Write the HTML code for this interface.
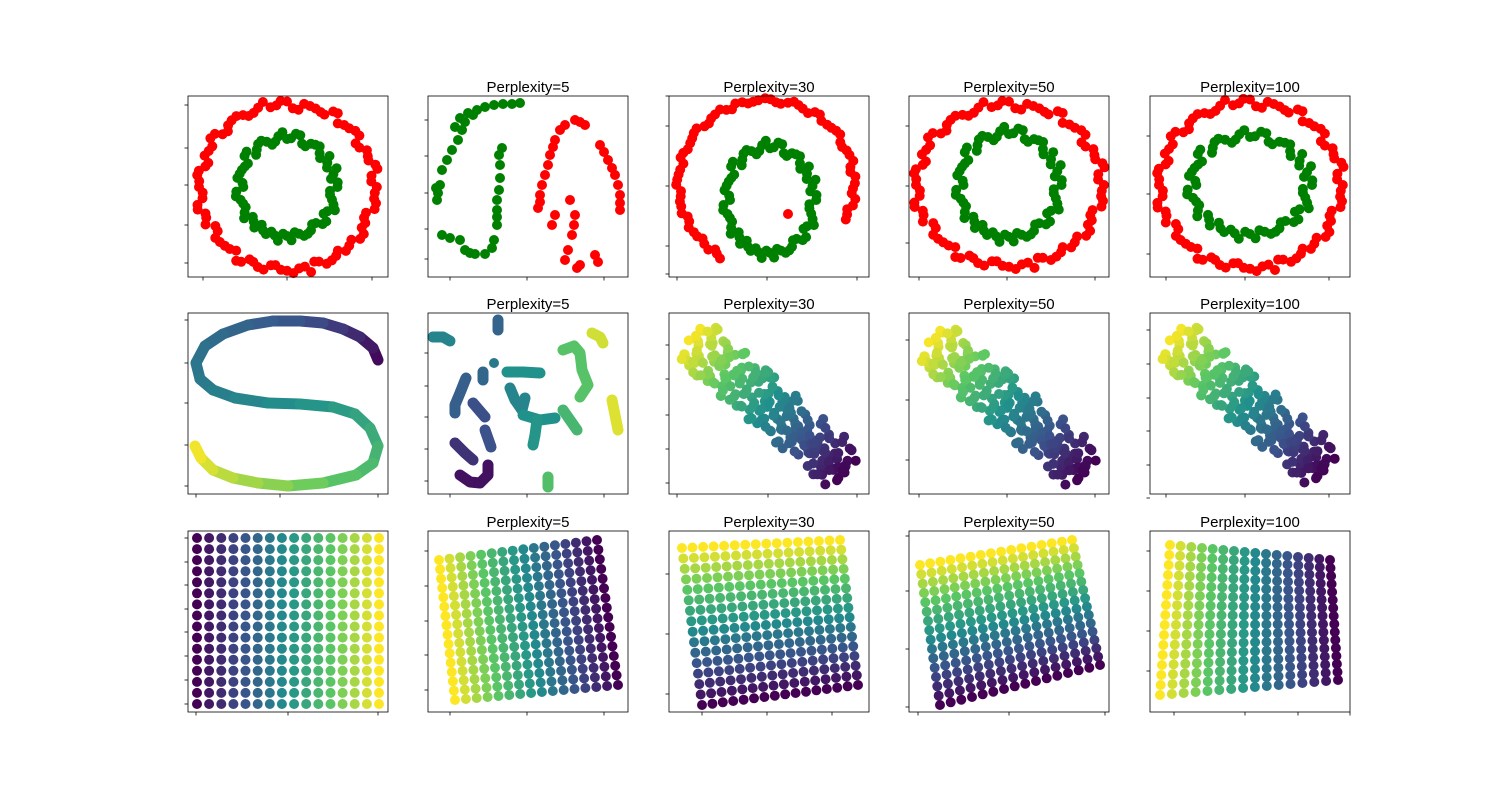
<!DOCTYPE html>
<html><head><meta charset="utf-8"><style>
html,body{margin:0;padding:0;background:#fff;}
svg{display:block;font-family:"Liberation Sans",sans-serif;}
</style></head><body>
<svg id="fig" width="1500" height="800" viewBox="0 0 1500 800" xmlns="http://www.w3.org/2000/svg"></svg>
<script>
// ---------- data ----------
const titles = ["", "Perplexity=5", "Perplexity=30", "Perplexity=50", "Perplexity=100"];
const colX = [188, 428, 669, 909, 1150];
const rowY = [96, 313, 531];
// ring angles (deg) and radius jitter
const outerA = [0,8,15,22,30,37,45,53,60,67,75,82,90,97,105,113,120,128,135,142,150,158,165,172,180,188,195,202,210,217,225,233,240,247,255,262,270,278,285,292,300,307,315,323,330,337,345,352];
const outerJ = [1.02,0.97,1.04,0.99,0.95,1.03,1.0,0.96,1.05,0.98,1.01,0.94,1.03,0.99,1.06,0.97,1.0,1.02,0.95,1.04,0.98,1.01,0.96,1.03,1.0,0.97,1.05,0.99,0.94,1.02,1.0,0.96,1.04,0.98,1.03,0.95,1.01,0.99,1.06,0.97,1.02,0.96,1.0,1.04,0.98,0.95,1.03,1.0];
const innerA = [0,10,20,30,40,50,60,70,80,90,100,110,120,130,140,150,160,170,180,190,200,210,220,230,240,250,260,270,280,290,300,310,320,330,340,350];
const innerJ = [1.05,0.93,1.1,0.97,0.9,1.06,1.0,0.92,1.08,0.96,1.03,0.9,1.07,0.98,1.1,0.94,1.0,1.05,0.91,1.08,0.97,1.02,0.93,1.06,1.0,0.95,1.09,0.98,0.92,1.04,1.0,0.94,1.07,0.97,1.03,0.91];
// ring panels: [col, cx, cy, outerRx, outerRy, innerRx, innerRy] (local units)
const ringPanels = [[0,99,91,88,83,48,50],[3,100,89,93,81,50,53],[4,100,89,91,83,59,50]];
// perplexity 30 arc (angles deg, ccw from +x, y up) and inner ring
const arcA = [-25,-18,-10,-3,5,12,20,27,35,42,50,57,65,72,80,87,95,102,110,117,125,132,140,147,155,162,170,177,185,192,200,207,215,222,230,236];
const arcJ = [1.0,0.97,1.03,0.99,1.02,0.98,1.01,0.97,1.03,1.0,0.98,1.02,0.99,1.03,0.97,1.01,1.0,0.98,1.02,0.99,1.01,0.97,1.03,1.0,0.98,1.02,0.99,1.01,0.97,1.0,1.02,0.98,1.0,0.97,1.02,1.0];
const p30Green = [101,104,44,54];
const p30Dot = [[119,118]];
// perplexity 5 fragments (local x, y-down units)
const p5Green = [[27,31],[32,22],[40,17],[49,14],[57,11],[66,9],[75,8],[84,8],[92,7],[37,26],[45,19],[9,104],[12,89],[14,74],[19,64],[24,54],[30,44],[34,34],[10,97],[69,129],[69,114],[69,104],[71,94],[72,82],[72,69],[71,59],[74,52],[69,121],[14,139],[22,142],[32,144],[37,154],[47,158],[57,158],[64,152],[66,144],[42,157],[8,92]];
const p5Red = [[110,112],[112,99],[114,89],[117,79],[120,69],[122,59],[125,51],[127,44],[132,34],[137,29],[147,24],[157,29],[152,26],[172,49],[176,56],[180,64],[184,72],[187,79],[190,89],[192,99],[192,107],[192,114],[142,104],[147,119],[146,129],[144,139],[140,154],[137,164],[149,172],[152,169],[167,159],[170,166],[127,119],[124,129],[112,106]];
// S-curve (local x, y-down, color t)
const sCurve = [[190,47,0.0],[185,35,0.05],[172,24,0.1],[155,16,0.15],[135,10,0.2],[112,8,0.25],[85,8,0.28],[60,12,0.31],[35,21,0.34],[17,33,0.36],[8,50,0.38],[12,66,0.4],[25,77,0.42],[47,85,0.44],[80,90,0.47],[112,91,0.5],[145,94,0.53],[167,101,0.56],[182,115,0.6],[190,133,0.63],[185,150,0.67],[168,162,0.7],[135,170,0.75],[100,173,0.8],[70,170,0.84],[45,165,0.87],[25,157,0.92],[13,145,0.96],[7,133,1.0]];
// perplexity 5 colored clusters: [t, [points...]]
const p5Clusters = [
 [0.45,[[5,24],[15,24],[22,28]]],[0.32,[[70,7],[70,17]]],[0.93,[[164,20],[172,24],[175,30]]],
 [0.72,[[135,37],[146,33],[152,40],[154,57],[160,72],[152,84]]],[0.33,[[55,59],[55,67]]],[0.4,[[66,50]]],
 [0.5,[[79,59],[95,59],[112,60]]],[0.3,[[38,65],[32,80],[27,92],[27,100]]],[0.45,[[82,75],[87,87],[94,97],[97,85]]],
 [0.5,[[95,102],[112,107],[127,105]]],[0.52,[[109,107],[107,122],[105,132]]],[0.66,[[135,97],[142,107],[149,117]]],
 [0.95,[[184,87],[187,102],[190,117]]],[0.24,[[45,90],[57,104]]],[0.25,[[57,117],[63,134]]],
 [0.15,[[27,130],[37,140],[45,147]]],[0.05,[[32,162],[42,169],[52,170],[60,162],[60,152]]],[0.7,[[120,164],[120,174]]]];
// diagonal band shared shape: [u along (0..1), v across (-1..1)]
const bandUV = [[0.01,0.1],[0.03,-0.5],[0.04,0.6],[0.06,0.0],[0.07,-0.9],[0.09,0.8],[0.1,-0.3],[0.12,0.4],[0.14,-0.7],[0.15,0.9],[0.17,0.1],[0.19,-0.5],[0.2,0.6],[0.22,-0.1],[0.24,0.7],[0.25,-0.8],[0.27,0.3],[0.29,-0.4],[0.3,0.9],[0.32,0.0],[0.34,-0.7],[0.35,0.5],[0.37,-0.2],[0.39,0.8],[0.4,-0.6],[0.42,0.2],[0.44,-0.9],[0.45,0.6],[0.47,-0.3],[0.49,0.4],[0.5,-0.1],[0.52,0.8],[0.54,-0.6],[0.55,0.1],[0.57,-0.4],[0.59,0.7],[0.6,-0.8],[0.62,0.3],[0.64,-0.2],[0.65,0.9],[0.67,-0.6],[0.69,0.1],[0.7,0.6],[0.72,-0.4],[0.74,0.2],[0.75,-0.9],[0.77,0.7],[0.79,-0.1],[0.8,0.4],[0.82,-0.6],[0.84,0.8],[0.85,0.0],[0.87,-0.5],[0.89,0.5],[0.9,-0.2],[0.92,0.7],[0.94,-0.7],[0.95,0.2],[0.97,-0.3],[0.99,0.4],[0.08,0.3],[0.18,-0.1],[0.28,0.0],[0.38,0.3],[0.48,0.0],[0.58,0.2],[0.68,-0.1],[0.78,0.3],[0.88,0.1],[0.98,-0.1]];
// band panels: [col, ax, ay, bx, by, halfWidth]
const bandPanels = [[2,20,24,178,158,27],[3,20,26,178,158,27],[4,20,24,176,156,27]];
// grids
const gridU = [0,1,2,3,4,5,6,7,8,9,10,11,12,13,14,15];
const gridV = [0,1,2,3,4,5,6,7,8,9,10,11,12,13,14,15];
// grid panels: [col, TLx,TLy, TRx,TRy, BRx,BRy, BLx,BLy, colorMode]
const gridPanels = [[0,9,7,191,7,191,173,9,173,0],[1,11,29,169,9,190,154,27,169,1],[2,13,17,171,9,189,154,33,174,2],[3,11,34,163,9,191,134,31,174,2],[4,20,14,180,29,188,149,10,164,1]];
// tick positions (local)
const ticksX = [[[15,99,184],[22,99,176],[8,98,188],[10,98,186],[16,95,179]],[[8,92,190],[22,99,176],[8,99,188],[10,98,186],[16,95,179]],[[8,100,190],[22,99,176],[33,98,163],[9,100,196],[24,95,148,200]]];
const ticksY = [[[9,52,89,129,167],[24,60,97,133,163],[0,30,90,150,178],[30,90,147],[40,98,158]],[[7,50,90,132,173],[40,73,104,136,168],[32,66,102,136,170],[27,87,147],[17,51,85,118,152,185]],[[7,31,54,78,101,125,149,173],[20,55,90,124,159],[43,103,163],[5,60,118,176],[20,60,100,140]]];

// ---------- helpers ----------
const svg = document.getElementById('fig');
const NS = 'http://www.w3.org/2000/svg';
const W = 200, H = 181;
function mk(tag, attrs, parent){const e=document.createElementNS(NS,tag);for(const k in attrs)e.setAttribute(k,attrs[k]);(parent||svg).appendChild(e);return e;}
const vir = [[0,[68,1,84]],[0.25,[59,82,139]],[0.5,[33,145,140]],[0.75,[94,201,98]],[1,[253,231,37]]];
function viridis(t){t=Math.max(0,Math.min(1,t));for(let i=0;i<vir.length-1;i++){const a=vir[i],b=vir[i+1];if(t<=b[0]){const f=(t-a[0])/(b[0]-a[0]);const c=a[1].map((v,j)=>Math.round(v+(b[1][j]-v)*f));return `rgb(${c[0]},${c[1]},${c[2]})`;}}return 'rgb(253,231,37)';}
function sx(col, x){return colX[col]+x;}
function sy(row, y){return rowY[row]+y;}
function dot(g,x,y,fill,name){const c=mk('circle',{cx:x.toFixed(1),cy:y.toFixed(1),r:5,fill:fill},g);


return c;}
function panelGroup(row,col){const g=mk('g',{});


return g;}

// ---------- axes frames, ticks, titles ----------
for(let r=0;r<3;r++)for(let c=0;c<5;c++){
 const g=mk('g',{});
 
 
 ticksX[r][c].forEach(t=>{const l=mk('line',{x1:sx(c,t),x2:sx(c,t),y1:sy(r,H),y2:sy(r,H)+3.5,stroke:'#000','stroke-width':0.8},g);
  
  });
 ticksY[r][c].forEach(t=>{const l=mk('line',{x1:sx(c,0)-3.5,x2:sx(c,0),y1:sy(r,t),y2:sy(r,t),stroke:'#000','stroke-width':0.8},g);
  
  });
 if(titles[c]){const t=mk('text',{x:sx(c,W/2),y:sy(r,-4),'text-anchor':'middle','font-size':15,fill:'#000'},g);t.textContent=titles[c];
  
  }
}

// ---------- row 0: circles ----------
ringPanels.forEach(p=>{const [c,cx,cy,orx,ory,irx,iry]=p;const g=panelGroup(0,c);
 for(let pass=0;pass<2;pass++){
 outerA.forEach((a,i)=>{const ang=(a+pass*4)*Math.PI/180;const j=outerJ[(i+pass*7)%outerJ.length];dot(g,sx(c,cx+orx*j*Math.cos(ang)),sy(0,cy-ory*j*Math.sin(ang)),'#ff0000','outer-ring-point');});
 innerA.forEach((a,i)=>{const ang=(a+pass*5)*Math.PI/180;const j=innerJ[(i+pass*5)%innerJ.length];dot(g,sx(c,cx+irx*j*Math.cos(ang)),sy(0,cy-iry*j*Math.sin(ang)),'#008000','inner-ring-point');});
 }});
(function(){const c=1;const g=panelGroup(0,c);
 p5Green.forEach(p=>dot(g,sx(c,p[0]),sy(0,p[1]),'#008000','inner-ring-point'));
 p5Red.forEach(p=>dot(g,sx(c,p[0]),sy(0,p[1]),'#ff0000','outer-ring-point'));})();
(function(){const c=2;const g=panelGroup(0,c);const cx=97,cy=88,rx=88,ry=84;
 for(let pass=0;pass<2;pass++) arcA.forEach((a,i)=>{const ang=(a+pass*3.5)*Math.PI/180;const j=arcJ[(i+pass*3)%arcJ.length];dot(g,sx(c,cx+rx*j*Math.cos(ang)),sy(0,cy-ry*j*Math.sin(ang)),'#ff0000','outer-ring-point');});
 const [gx,gy,grx,gry]=p30Green;
 for(let pass=0;pass<2;pass++) innerA.forEach((a,i)=>{const ang=(a+pass*5)*Math.PI/180;const j=innerJ[(i+pass*5)%innerJ.length];dot(g,sx(c,gx+grx*j*Math.cos(ang)),sy(0,gy-gry*j*Math.sin(ang)),'#008000','inner-ring-point');});
 p30Dot.forEach(p=>dot(g,sx(c,p[0]),sy(0,p[1]),'#ff0000','outer-ring-point'));})();

// ---------- row 1 ----------
(function(){const c=0;const g=panelGroup(1,c);
 for(let i=0;i<sCurve.length-1;i++){const a=sCurve[i],b=sCurve[i+1];
  const l=mk('line',{x1:sx(c,a[0]),y1:sy(1,a[1]),x2:sx(c,b[0]),y2:sy(1,b[1]),stroke:viridis((a[2]+b[2])/2),'stroke-width':11,'stroke-linecap':'round'},g);
  
  }})();
(function(){const c=1;const g=panelGroup(1,c);
 p5Clusters.forEach(cl=>{const col=viridis(cl[0]);const pts=cl[1];
  if(pts.length>1){const pl=mk('polyline',{points:pts.map(p=>sx(c,p[0])+','+sy(1,p[1])).join(' '),fill:'none',stroke:col,'stroke-width':11,'stroke-linecap':'round','stroke-linejoin':'round'},g);
   
   }
  pts.forEach(p=>dot(g,sx(c,p[0]),sy(1,p[1]),col,'cluster-point'));});})();
bandPanels.forEach(bp=>{const [c,ax,ay,bx,by,hw]=bp;const g=panelGroup(1,c);
 const dx=bx-ax,dy=by-ay,len=Math.hypot(dx,dy),px=-dy/len,py=dx/len;
 for(let pass=0;pass<3;pass++) bandUV.forEach((q,i)=>{const u=Math.min(1,q[0]+pass*0.006),v=bandUV[(i+pass*11)%bandUV.length][1];
  dot(g,sx(c,ax+u*dx+v*hw*px),sy(1,ay+u*dy+v*hw*py),viridis(1-u),'band-point');});});

// ---------- row 2: grids ----------
gridPanels.forEach(gp=>{const [c,tlx,tly,trx,try_,brx,bry,blx,bly,mode]=gp;const g=panelGroup(2,c);
 const nu=gridU.length-1,nv=gridV.length-1;
 gridV.forEach(v=>gridU.forEach(u=>{const s=u/nu,t=v/nv;
  const x=(1-s)*(1-t)*tlx+s*(1-t)*trx+s*t*brx+(1-s)*t*blx;
  const y=(1-s)*(1-t)*tly+s*(1-t)*try_+s*t*bry+(1-s)*t*bly;
  const ct=mode===0?s:(mode===1?1-s:1-t);
  dot(g,sx(c,x),sy(2,y),viridis(ct),'grid-point');}));});

// frames on top
for(let r=0;r<3;r++)for(let c=0;c<5;c++){const f=mk('rect',{x:colX[c],y:rowY[r],width:W,height:H,fill:'none',stroke:'#000','stroke-width':0.8});
 
 }
</script>
</body></html>
